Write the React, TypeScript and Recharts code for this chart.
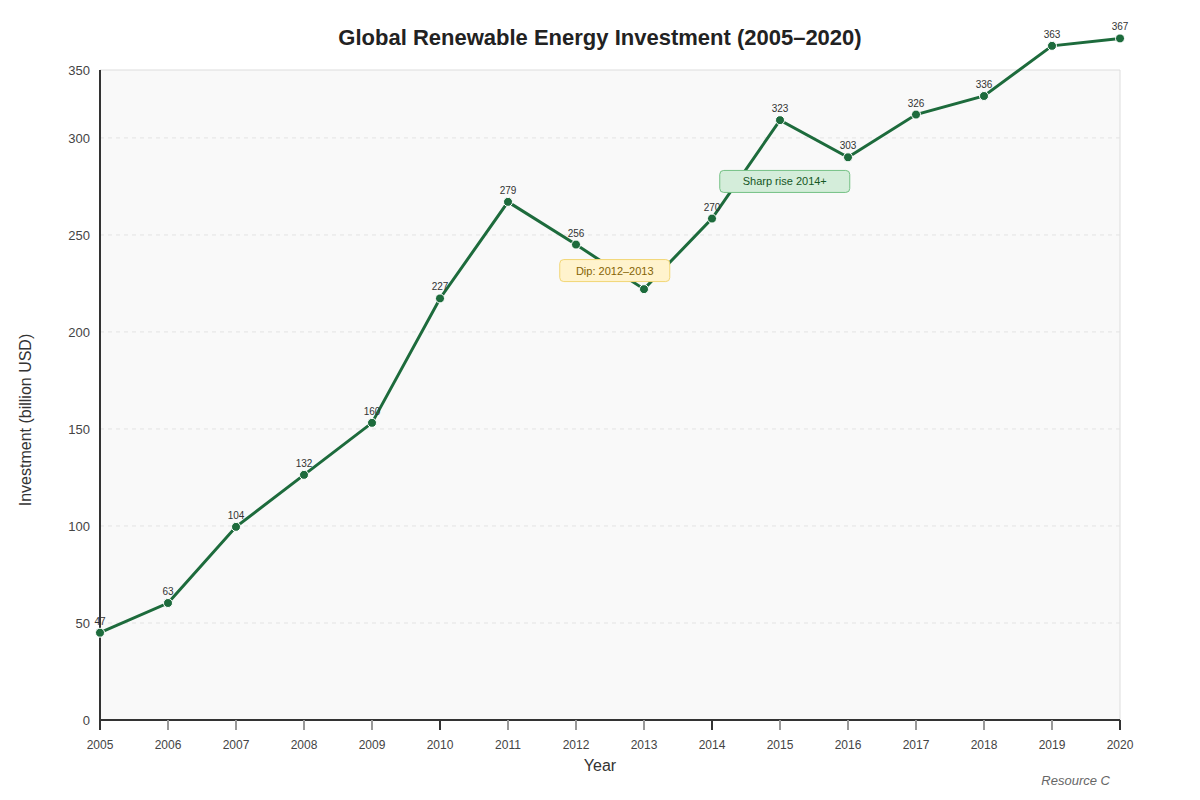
import {
  LineChart,
  Line,
  XAxis,
  YAxis,
  ReferenceArea,
  ReferenceLine,
  ReferenceDot,
  LabelList
} from "recharts";

// Investment in billion USD, per year
const years = [2005, 2006, 2007, 2008, 2009, 2010, 2011, 2012, 2013, 2014, 2015, 2016, 2017, 2018, 2019, 2020];
const investment = [47, 63, 104, 132, 160, 227, 279, 256, 232, 270, 323, 303, 326, 336, 363, 367];
const majorYears = [2005, 2010, 2014, 2020];

const gridValues = [50, 100, 150, 200, 250, 300];
const yTickValues = [0, 50, 100, 150, 200, 250, 300];
// the source axis puts its "350" label at the top edge of the plot box,
// which on its own (uneven) tick scale sits at 335
const TOP_TICK = 335;
const TOP_LABEL = "350";

const annotations = [
  { x: 2012.57, y: 242, text: "Dip: 2012\u20132013", w: 110, fill: "#fff3cd", stroke: "#f2d675", color: "#856404" },
  { x: 2015.07, y: 290, text: "Sharp rise 2014+", w: 130, fill: "#d4edda", stroke: "#74c184", color: "#155724" }
];

const data = years.map((year, i) => ({ year, value: investment[i] }));

const LINE = "#1d6b3c";
const DATA_MAX = 375;
const BOX_MAX = 350;
const TOP = 720 - (650 * DATA_MAX) / BOX_MAX;

const YearTick = (props: any) => {
  const { x, y, payload } = props;
  const major = majorYears.includes(payload.value);
  return (
    <g>
      <line x1={x} x2={x} y1={y - 20} y2={y - 10} stroke={major ? "#333" : "#999"} strokeWidth={2} />
      <text x={x} y={y} dy="0.71em" textAnchor="middle" fontSize={12} fill="#444">
        {payload.value}
      </text>
    </g>
  );
};

const NoteBox = (text: string, w: number, fill: string, stroke: string, color: string) => (props: any) => {
  const { cx, cy } = props;
  return (
    <g>
      <rect x={cx - w / 2} y={cy - 11} width={w} height={22} rx={4} fill={fill} stroke={stroke} strokeWidth={1} />
      <text x={cx} y={cy + 4} textAnchor="middle" fontSize={11} fill={color}>
        {text}
      </text>
    </g>
  );
};

export default function App() {
  return (
    <div
      style={{
        position: "absolute",
        left: 0,
        top: 0,
        width: 1200,
        height: 800,
        background: "#fff",
        fontFamily: "'Liberation Sans', Arial, sans-serif"
      }}
    >
      <LineChart width={1200} height={800} data={data} margin={{ top: TOP, right: 80, bottom: 0, left: 0 }}>
        <XAxis
          dataKey="year"
          type="number"
          domain={[2005, 2020]}
          ticks={years}
          interval={0}
          height={80}
          tickLine={false}
          tickSize={10}
          tickMargin={10}
          tick={<YearTick />}
          axisLine={{ stroke: "#333", strokeWidth: 2 }}
        />
        <YAxis
          yAxisId="scale"
          type="number"
          domain={[0, (DATA_MAX * TOP_TICK) / BOX_MAX]}
          allowDataOverflow
          ticks={[...yTickValues, TOP_TICK]}
          interval={0}
          width={100}
          axisLine={false}
          tickLine={false}
          tickSize={0}
          tickMargin={10}
          tick={{ fill: "#444", fontSize: 13 }}
          tickFormatter={(v: number) => (v === TOP_TICK ? TOP_LABEL : String(v))}
        />
        <YAxis yAxisId="data" orientation="right" width={0} hide domain={[0, DATA_MAX]} />

        <ReferenceArea
          yAxisId="data"
          x1={2005}
          x2={2020}
          y1={0}
          y2={BOX_MAX}
          fill="#f9f9f9"
          fillOpacity={1}
          stroke="#dddddd"
          strokeWidth={1}
        />
        {gridValues.map((v) => (
          <ReferenceLine key={v} yAxisId="scale" y={v} stroke="#e3e3e3" strokeDasharray="4 4" />
        ))}
        <ReferenceLine
          yAxisId="data"
          segment={[{ x: 2005, y: 0 }, { x: 2005, y: BOX_MAX }]}
          stroke="#333"
          strokeWidth={2}
        />

        <Line
          yAxisId="data"
          type="linear"
          dataKey="value"
          stroke={LINE}
          strokeWidth={3}
          dot={{ r: 4.5, fill: LINE, stroke: "#fff", strokeWidth: 1 }}
          activeDot={false}
          isAnimationActive={false}
        >
          <LabelList dataKey="value" position="top" offset={8} fontSize={10} fill="#333" />
        </Line>

        {annotations.map((a) => (
          <ReferenceDot
            key={a.text}
            yAxisId="data"
            x={a.x}
            y={a.y}
            r={0}
            ifOverflow="visible"
            zIndex={2500}
            shape={NoteBox(a.text, a.w, a.fill, a.stroke, a.color)}
          />
        ))}
      </LineChart>

      <svg width={1200} height={800} style={{ position: "absolute", left: 0, top: 0, pointerEvents: "none" }}>
        <text x={600} y={45} textAnchor="middle" fontSize={22} fontWeight="bold" fill="#222">
          Global Renewable Energy Investment (2005–2020)
        </text>
        <text x={600} y={771} textAnchor="middle" fontSize={16} fill="#333">
          Year
        </text>
        <text transform="translate(31, 420) rotate(-90)" textAnchor="middle" fontSize={16} fill="#333">
          Investment (billion USD)
        </text>
        <text x={1110} y={785} textAnchor="end" fontSize={13} fontStyle="italic" fill="#666">
          Resource C
        </text>
      </svg>
    </div>
  );
}
